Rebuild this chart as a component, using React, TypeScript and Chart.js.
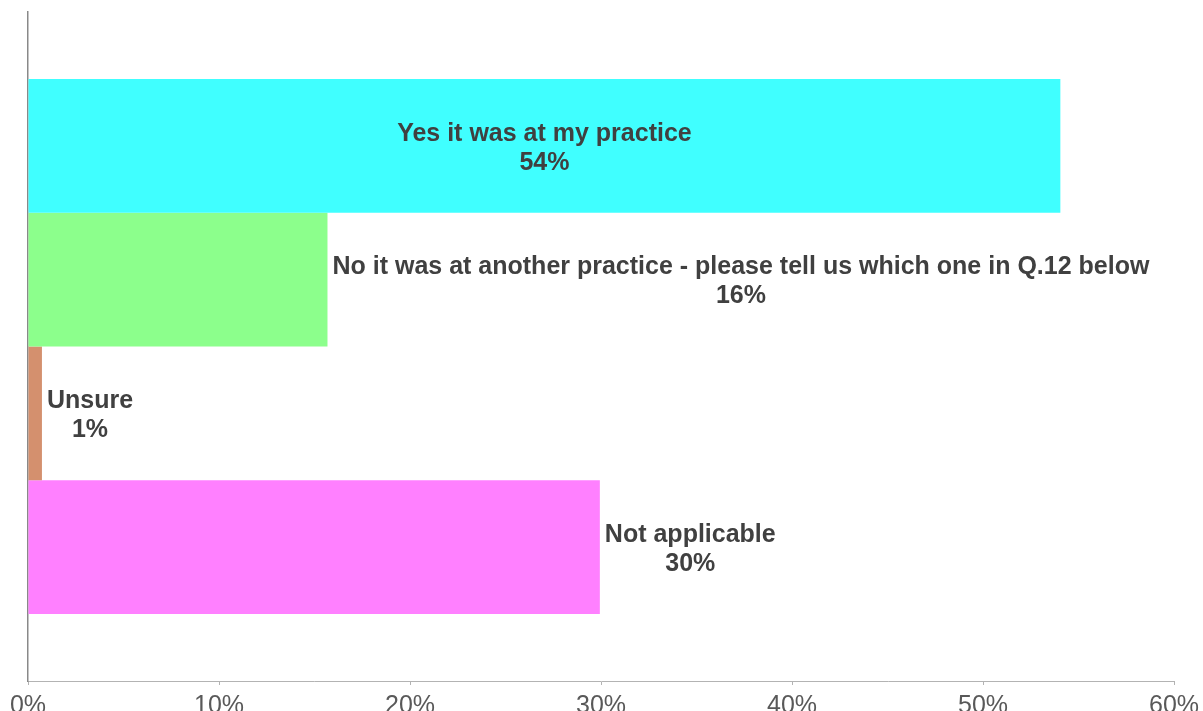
import React, { useEffect, useRef } from "react";
import { Chart, registerables } from "chart.js";

Chart.register(...registerables);

const categories = [
  "Yes it was at my practice",
  "No it was at another practice - please tell us which one in Q.12 below",
  "Unsure",
  "Not applicable",
];
const values = [54.05, 15.68, 0.73, 29.94];
const displayPct = ["54%", "16%", "1%", "30%"];
const colors = ["#40FFFF", "#8CFF8C", "#D4906E", "#FF80FF"];
const labelInside = [true, false, false, false];
const xTicks = [0, 10, 20, 30, 40, 50, 60];

const labelPlugin = {
  id: "barLabels",
  afterDatasetsDraw(chart: any) {
    const ctx = chart.ctx;
    ctx.save();
    ctx.font = "bold 25px 'Liberation Sans', Arial, sans-serif";
    ctx.fillStyle = "#404040";
    ctx.textAlign = "center";
    ctx.textBaseline = "middle";
    chart.data.datasets.forEach((ds: any, i: number) => {
      const meta = chart.getDatasetMeta(i);
      const bar = meta.data[0];
      if (!bar) return;
      const lines = [categories[i], displayPct[i]];
      const maxW = Math.max(...lines.map((l) => ctx.measureText(l).width));
      let cx: number;
      if (labelInside[i]) {
        cx = (bar.base + bar.x) / 2;
      } else {
        cx = bar.x + 5 + maxW / 2;
      }
      const cy = bar.y;
      ctx.fillText(lines[0], cx, cy - 12);
      ctx.fillText(lines[1], cx, cy + 17);
    });
    ctx.restore();
  },
};

export default function App() {
  const ref = useRef<HTMLCanvasElement | null>(null);
  useEffect(() => {
    document.body.style.margin = "0";
    const canvas = ref.current;
    if (!canvas) return;
    const chart = new Chart(canvas, {
      type: "bar",
      data: {
        labels: [""],
        datasets: categories.map((c, i) => ({
          label: c,
          data: [values[i]],
          backgroundColor: colors[i],
          borderWidth: 0,
          barPercentage: 1,
          categoryPercentage: 0.8,
        })),
      },
      options: {
        indexAxis: "y",
        animation: false,
        responsive: false,
        maintainAspectRatio: false,
        layout: { padding: { top: 12, left: 28, right: 29, bottom: 0 } },
        plugins: {
          legend: { display: false },
          tooltip: { enabled: false },
          title: { display: false },
        },
        scales: {
          x: {
            min: 0,
            max: 60,
            afterFit: (scale: any) => {
              scale.height = 30;
              scale.paddingLeft = 0;
              scale.paddingRight = 0;
            },
            afterBuildTicks: (scale: any) => {
              scale.ticks = xTicks.map((v) => ({ value: v }));
            },
            grid: {
              display: true,
              drawOnChartArea: false,
              drawTicks: true,
              tickLength: 4,
              color: "#b3b3b3",
            },
            border: { display: true, color: "#b3b3b3", width: 1 },
            ticks: {
              callback: (v: any) => v + "%",
              color: "#595959",
              font: { family: "'Liberation Sans', Arial, sans-serif", size: 25 },
              padding: 6,
              maxRotation: 0,
              autoSkip: false,
            },
          },
          y: {
            afterFit: (scale: any) => {
              scale.width = 0;
            },
            grid: { display: false },
            border: { display: true, color: "#898989", width: 1.5 },
            ticks: { display: false },
          },
        },
      },
      plugins: [labelPlugin],
    });
    return () => chart.destroy();
  }, []);
  return (
    <div style={{ width: 1203, height: 711 }}>
      <canvas ref={ref} width={1203} height={711} style={{ display: "block" }} />
    </div>
  );
}
